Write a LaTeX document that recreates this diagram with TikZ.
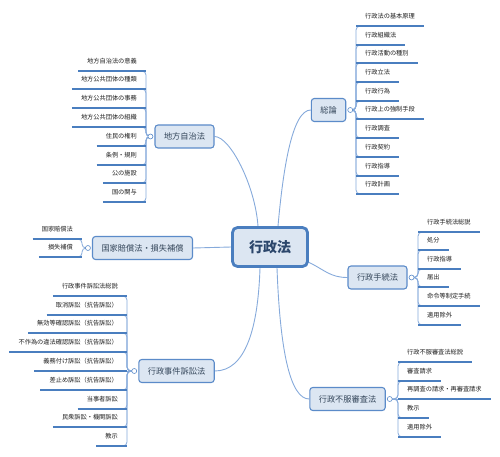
\documentclass[tikz,border=0pt]{standalone}
\usepackage{fontspec}
\setmainfont{Noto Sans CJK JP}
\usetikzlibrary{calc}
\definecolor{boxfill}{HTML}{DCE6F2}
\definecolor{boxline}{HTML}{5B8BC9}
\definecolor{centerline}{HTML}{4A7EBF}
\definecolor{connc}{HTML}{86AADB}
\definecolor{ulc}{HTML}{4A7EBF}
\definecolor{txtc}{HTML}{1E1E1E}
\definecolor{boxtxt}{HTML}{34465A}
\definecolor{centertxt}{HTML}{2B466B}
\pgfdeclarelayer{bg}
\pgfsetlayers{bg,main}
\begin{document}
\begin{tikzpicture}[x=1pt,y=-1pt,
  topic/.style={draw=boxline, line width=1.1pt, fill=boxfill, rounded corners=3pt,
    minimum height=23pt, inner xsep=9pt, inner ysep=0pt,
    font=\fontsize{8.2}{9}\selectfont, text=boxtxt},
  root/.style={draw=centerline, line width=2.8pt, fill=boxfill, rounded corners=5pt,
    minimum width=75pt, minimum height=39pt, inner sep=0pt,
    font=\fontsize{14}{16}\selectfont\bfseries, text=centertxt},
  leaf/.style={inner xsep=9pt, inner ysep=6pt, text height=5pt, text depth=1.2pt,
    font=\fontsize{6.2}{7}\selectfont, text=txtc},
  jn/.style={circle, draw=boxline, fill=white, line width=0.6pt, minimum size=5pt, inner sep=0pt},
  mconn/.style={draw=connc, line width=0.9pt},
  lconn/.style={draw=connc, line width=0.8pt, rounded corners=4pt},
  uline/.style={draw=ulc, line width=1.6pt}
]
\useasboundingbox (0,0) rectangle (500,457);

% main topics
\node[root] (C) at (270,247) {行政法};
\node[topic] (S) at (328.5,110) {総論};
\node[topic] (T) at (184.5,136.5) {地方自治法};
\node[topic] (K) at (142.5,248) {国家賠償法・損失補償};
\node[topic] (G) at (176.5,371) {行政事件訴訟法};
\node[topic] (P) at (377.5,277.5) {行政手続法};
\node[topic] (F) at (347.5,399) {行政不服審査法};

% junctions
\coordinate (JS) at ($(S.east)+(4,0)$);
\coordinate (JP) at ($(P.east)+(4,0)$);
\coordinate (JF) at ($(F.east)+(4,0)$);
\coordinate (JT) at ($(T.west)+(-4,0)$);
\coordinate (JK) at ($(K.west)+(-4,0)$);
\coordinate (JG) at ($(G.west)+(-4,0)$);

% main connectors
\begin{pgfonlayer}{bg}
\draw[mconn] ($(C.north)+(8,0)$) .. controls (283,170) and (292,110) .. (S.west);
\draw[mconn] (T.east) .. controls (230,136.5) and (255,185) .. ($(C.north)+(-12,0)$);
\draw[mconn] (K.east) -- (C.west);
\draw[mconn] ($(C.south east)+(-1,-6)$) .. controls (325,270) and (330,277.5) .. (P.west);
\draw[mconn] ($(C.south)+(-10,0)$) .. controls (258,330) and (245,371) .. (G.east);
\draw[mconn] ($(C.south)+(7,0)$) .. controls (280,350) and (290,399) .. (F.west);
\end{pgfonlayer}

% 総論
\foreach \n/\y/\t in {s1/26/行政法の基本原理, s2/45/行政組織法, s3/63/行政活動の種別,
  s4/82/行政立法, s5/101/行政行為, s6/119/行政上の強制手段, s7/138/行政調査,
  s8/157/行政契約, s9/176/行政指導, s10/194/行政計画}{
  \node[leaf, anchor=south west] (\n) at (356,\y) {\t};
  \begin{pgfonlayer}{bg}\draw[lconn] (JS) -| (\n.south west) -- ++(6,0);\end{pgfonlayer}
  \draw[uline] (\n.south west) -- (\n.south east);
}

% 行政手続法
\foreach \n/\y/\t in {p1/232/行政手続法総説, p2/250/処分, p3/269/行政指導,
  p4/287/届出, p5/306/命令等制定手続, p6/325/適用除外}{
  \node[leaf, anchor=south west] (\n) at (418,\y) {\t};
  \begin{pgfonlayer}{bg}\draw[lconn] (JP) -| (\n.south west) -- ++(6,0);\end{pgfonlayer}
  \draw[uline] (\n.south west) -- (\n.south east);
}

% 行政不服審査法
\foreach \n/\y/\t in {f1/362/行政不服審査法総説, f2/381/審査請求,
  f4/418/教示, f5/437/適用除外}{
  \node[leaf, anchor=south west] (\n) at (398,\y) {\t};
  \begin{pgfonlayer}{bg}\draw[lconn] (JF) -| (\n.south west) -- ++(6,0);\end{pgfonlayer}
  \draw[uline] (\n.south west) -- (\n.south east);
}
\node[leaf, anchor=south west] (f3) at (398,399) {再調査の請求・再審査請求};
\begin{pgfonlayer}{bg}\draw[lconn] (JF) -- (f3.south west);\end{pgfonlayer}
\draw[uline] (f3.south west) -- (f3.south east);

% 地方自治法
\foreach \n/\y/\t in {t1/71/地方自治法の意義, t2/89/地方公共団体の種類,
  t3/108/地方公共団体の事務, t4/127/地方公共団体の組織, t5/146/住民の権利,
  t6/165/条例・規則, t7/183/公の施設, t8/202/国の関与}{
  \node[leaf, anchor=south east] (\n) at (146,\y) {\t};
  \begin{pgfonlayer}{bg}\draw[lconn] (JT) -| (\n.south east) -- ++(-6,0);\end{pgfonlayer}
  \draw[uline] (\n.south west) -- (\n.south east);
}

% 国家賠償法・損失補償
\foreach \n/\y/\t in {k1/239/国家賠償法, k2/257/損失補償}{
  \node[leaf, anchor=south east] (\n) at (82,\y) {\t};
  \begin{pgfonlayer}{bg}\draw[lconn] (JK) -| (\n.south east) -- ++(-6,0);\end{pgfonlayer}
  \draw[uline] (\n.south west) -- (\n.south east);
}

% 行政事件訴訟法
\foreach \n/\y/\t in {g1/296/行政事件訴訟法総説, g2/315/取消訴訟（抗告訴訟）,
  g3/333/無効等確認訴訟（抗告訴訟）, g4/352/不作為の違法確認訴訟（抗告訴訟）,
  g6/390/差止め訴訟（抗告訴訟）, g7/409/当事者訴訟, g8/427/民衆訴訟・機関訴訟,
  g9/446/教示}{
  \node[leaf, anchor=south east] (\n) at (127,\y) {\t};
  \begin{pgfonlayer}{bg}\draw[lconn] (JG) -| (\n.south east) -- ++(-6,0);\end{pgfonlayer}
  \draw[uline] (\n.south west) -- (\n.south east);
}
\node[leaf, anchor=south east] (g5) at (127,371) {義務付け訴訟（抗告訴訟）};
\begin{pgfonlayer}{bg}\draw[lconn] (JG) -- (g5.south east);\end{pgfonlayer}
\draw[uline] (g5.south west) -- (g5.south east);

% junction circles
\node[jn] (jS) at (JS) {};
\node[jn] (jP) at (JP) {};
\node[jn] (jF) at (JF) {};
\node[jn] (jT) at (JT) {};
\node[jn] (jK) at (JK) {};
\node[jn] (jG) at (JG) {};
\end{tikzpicture}
\end{document}
